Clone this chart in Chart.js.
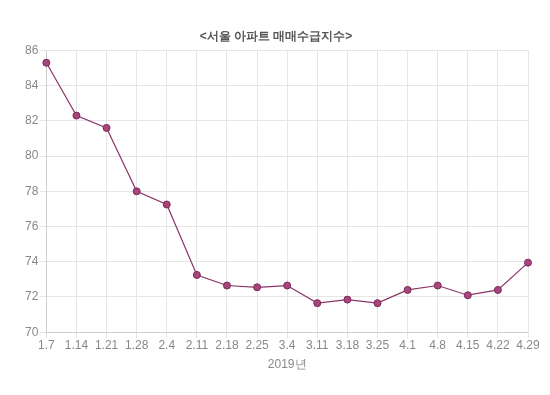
<!DOCTYPE html>
<html>
<head>
<meta charset="utf-8">
<script src="https://cdn.jsdelivr.net/npm/chart.js@4"></script>
<style>
  html, body { margin: 0; padding: 0; background: #fff; }
  #wrap { width: 550px; height: 395px; }
</style>
</head>
<body>
<div id="wrap"><canvas id="chart"></canvas></div>
<script>
// weeks of 2019
const weeks = ['1.7', '1.14', '1.21', '1.28', '2.4', '2.11', '2.18', '2.25', '3.4',
  '3.11', '3.18', '3.25', '4.1', '4.8', '4.15', '4.22', '4.29'];
const supplyDemand = [85.3, 82.3, 81.6, 78.0, 77.25, 73.25, 72.65, 72.55, 72.65,
  71.65, 71.85, 71.65, 72.4, 72.65, 72.1, 72.4, 73.95];
const yMin = 70;
const yMax = 86;
const yStep = 2;

new Chart(document.getElementById('chart'), {
  type: 'line',
  data: {
    labels: weeks,
    datasets: [{
      label: '매매수급지수',
      data: supplyDemand,
      borderColor: '#8a3468',
      borderWidth: 1.2,
      backgroundColor: '#a8457c',
      pointBackgroundColor: '#a8457c',
      pointBorderColor: '#7a2a58',
      pointBorderWidth: 1,
      pointRadius: 3.5,
      tension: 0,
      fill: false,
    }],
  },
  options: {
    responsive: true,
    maintainAspectRatio: false,
    animation: false,
    layout: { padding: { top: 29, right: 22, bottom: 19, left: 24 } },
    plugins: {
      legend: { display: false },
      title: {
        display: true,
        text: '<서울 아파트 매매수급지수>',
        color: '#555',
        font: { size: 12, weight: 'bold' },
        padding: { top: 0, bottom: 7 },
      },
    },
    scales: {
      x: {
        grid: { color: '#e6e6e6', tickLength: 6 },
        ticks: { color: '#888', font: { size: 12 }, maxRotation: 0, autoSkip: false, padding: 0 },
        title: { display: true, text: '2019년', color: '#888', font: { size: 12 }, padding: { top: 5 } },
      },
      y: {
        min: yMin,
        max: yMax,
        grid: { color: '#e6e6e6', tickLength: 7 },
        ticks: { stepSize: yStep, color: '#888', font: { size: 12 }, padding: 1 },
      },
    },
  },
});
</script>
</body>
</html>
